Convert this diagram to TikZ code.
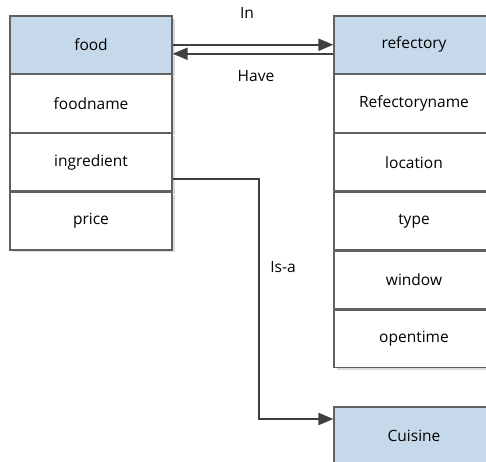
\documentclass[tikz,border=0pt]{standalone}
\usepackage{fontspec}
\setmainfont{Open Sans}
\usetikzlibrary{positioning,arrows.meta,shadows}

\definecolor{headblue}{RGB}{198,217,234}
\definecolor{edgegray}{RGB}{96,96,96}
\definecolor{linegray}{RGB}{64,64,64}

\tikzset{
  field/.style={rectangle, draw=edgegray, line width=1.3pt, fill=white,
    minimum width=162pt, minimum height=57.5pt, inner sep=0pt,
    font=\fontsize{15.5}{19}\selectfont,
    drop shadow={shadow xshift=2.5pt, shadow yshift=-2.5pt, fill=black!14, opacity=1}},
  headfield/.style={field, fill=headblue},
  relline/.style={draw=linegray, line width=2.2pt, -{Triangle[length=15pt,width=12pt]}},
  rellabel/.style={font=\fontsize{15.5}{19}\selectfont, inner sep=1pt}
}

\begin{document}
\begin{tikzpicture}[x=1pt, y=1pt, node distance=0pt]
  \useasboundingbox (0,0) rectangle (486,-461);
  \clip (0,0) rectangle (486,-461);
  % food table
  \node[headfield] (food) at (91,-44.75) {food};
  \node[field, below=of food] (foodname) {foodname};
  \node[field, below=of foodname] (ingredient) {ingredient};
  \node[field, below=of ingredient] (price) {price};
  % refectory table, runs off the right edge
  \node[headfield, minimum width=160pt] (refectory) at (414,-44.75) {refectory};
  \node[field, minimum width=160pt, below=of refectory] (refname) {Refectoryname};
  \node[field, minimum width=160pt, below=of refname] (location) {location};
  \node[field, minimum width=160pt, below=of location] (type) {type};
  \node[field, minimum width=160pt, below=of type] (window) {window};
  \node[field, minimum width=160pt, below=of window] (opentime) {opentime};
  % Cuisine, cut off at the bottom
  \node[headfield, minimum width=160pt] (cuisine) at (414,-435.75) {Cuisine};
  % relations
  \draw[relline] (food.east) -- (refectory.west);
  \draw[relline] ([yshift=-9pt]refectory.west) -- ([yshift=-9pt]food.east);
  \draw[relline] ([yshift=-17pt]ingredient.east) -- ++(86,0) |- ([yshift=16.75pt]cuisine.west);
  \node[rellabel] (inlabel) at (247,-13) {In};
  \node[rellabel] (havelabel) at (256,-76) {Have};
  \node[rellabel] (isalabel) at (283,-267) {Is-a};
\end{tikzpicture}
\end{document}
